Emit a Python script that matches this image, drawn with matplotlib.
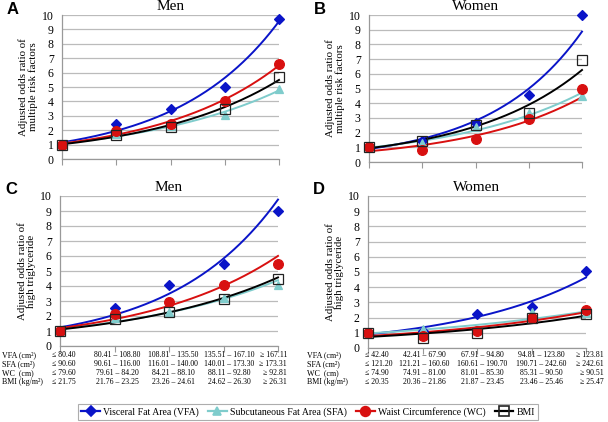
import numpy as np
import matplotlib
matplotlib.use("Agg")
import matplotlib.pyplot as plt
from matplotlib.lines import Line2D

plt.rcParams['font.family'] = ['Liberation Serif', 'DejaVu Serif']

# ---- data ----
x_cats = [0, 1, 2, 3, 4]

A_vfa = [1.0, 2.4, 3.45, 5.0, 9.75]
A_sfa = [1.0, 1.75, 2.3, 3.05, 4.85]
A_wc = [1.0, 1.95, 2.45, 4.05, 6.6]
A_bmi = [1.0, 1.7, 2.2, 3.5, 5.7]

B_vfa = [1.0, 1.45, 2.62, 4.58, 10.0]
B_sfa = [1.0, 1.3, 2.35, 3.3, 4.5]
B_wc = [1.0, 0.81, 1.58, 2.93, 4.98]
B_bmi = [1.0, 1.4, 2.55, 3.35, 6.95]

C_vfa = [1.0, 2.56, 4.05, 5.48, 9.0]
C_sfa = [1.0, 1.85, 2.3, 3.2, 4.1]
C_wc = [1.0, 2.12, 2.94, 4.05, 5.45]
C_bmi = [1.0, 1.78, 2.27, 3.16, 4.45]

D_vfa = [1.0, 1.15, 2.25, 2.7, 5.08]
D_sfa = [1.0, 1.25, 1.2, 2.35, 2.3]
D_wc = [1.0, 0.81, 1.14, 2.0, 2.52]
D_bmi = [1.0, 0.68, 0.98, 1.97, 2.25]

row_labels = ['VFA (cm²)', 'SFA (cm²)', 'WC  (cm)', 'BMI (kg/m²)']
men_ranges = [
    ['≤ 80.40', '80.41 – 108.80', '108.81 – 135.50', '135.51 – 167.10', '≥ 167.11'],
    ['≤ 90.60', '90.61 – 116.00', '116.01 – 140.00', '140.01 – 173.30', '≥ 173.31'],
    ['≤ 79.60', '79.61 – 84.20', '84.21 – 88.10', '88.11 – 92.80', '≥ 92.81'],
    ['≤ 21.75', '21.76 – 23.25', '23.26 – 24.61', '24.62 – 26.30', '≥ 26.31'],
]
women_ranges = [
    ['≤ 42.40', '42.41 – 67.90', '67.91 – 94.80', '94.81 – 123.80', '≥ 123.81'],
    ['≤ 121.20', '121.21 – 160.60', '160.61 – 190.70', '190.71 – 242.60', '≥ 242.61'],
    ['≤ 74.90', '74.91 – 81.00', '81.01 – 85.30', '85.31 – 90.50', '≥ 90.51'],
    ['≤ 20.35', '20.36 – 21.86', '21.87 – 23.45', '23.46 – 25.46', '≥ 25.47'],
]

series_names = ['Visceral Fat Area (VFA)', 'Subcutaneous Fat Area (SFA)',
                'Waist Circumference (WC)', 'BMI']
colors = ['#0a14c8', '#7fcccc', '#d81010', '#000000']
markers = ['D', '^', 'o', 's']
msizes = [5, 6, 7, 7]
faces = ['#0a14c8', '#7fcccc', '#d81010', 'none']
edges = ['#0a14c8', '#7fcccc', '#d81010', '#222222']
marker_z = [6, 7, 8, 9]

panels = [
    ('A', 'Men', 'Adjusted odds ratio of\nmultiple risk factors',
     [A_vfa, A_sfa, A_wc, A_bmi], [62, 279, 15, 159]),
    ('B', 'Women', 'Adjusted odds ratio of\nmultiple risk factors',
     [B_vfa, B_sfa, B_wc, B_bmi], [369, 582, 15, 162]),
    ('C', 'Men', 'Adjusted odds ratio of\nhigh triglyceride',
     [C_vfa, C_sfa, C_wc, C_bmi], [60, 278, 196, 346]),
    ('D', 'Women', 'Adjusted odds ratio of\nhigh triglyceride',
     [D_vfa, D_sfa, D_wc, D_bmi], [368, 586, 196, 348]),
]

W, H = 608, 422
fig = plt.figure(figsize=(W / 100, H / 100), dpi=100)

for letter, title, ylab, data, (l, r, t, b) in panels:
    ax = fig.add_axes([l / W, 1 - b / H, (r - l) / W, (b - t) / H])
    xs = np.array(x_cats, dtype=float)
    xf = np.linspace(xs[0], xs[-1], 200)
    for i, ys in enumerate(data):
        coef = np.polyfit(xs, np.log(ys), 1)
        ax.plot(xf, np.exp(np.polyval(coef, xf)), color=colors[i], lw=1.4,
                zorder=3 + i * 0.1, clip_on=False)
    for i, ys in enumerate(data):
        ax.plot(xs, ys, linestyle='none', marker=markers[i], ms=msizes[i],
                mfc=faces[i], mec=edges[i], mew=0.9, zorder=marker_z[i],
                clip_on=False)
    ax.set_xlim(0, 4)
    ax.set_ylim(0, 10)
    ax.set_yticks(range(0, 11))
    ax.set_xticks(x_cats)
    ax.set_xticklabels([])
    ax.tick_params(axis='y', length=0, labelsize=8.5, pad=6)
    ax.tick_params(axis='x', length=4, color='#999999', direction='out')
    ax.grid(axis='y', color='#bbbbbb', lw=0.9)
    ax.set_axisbelow(True)
    for s in ['top', 'right']:
        ax.spines[s].set_visible(False)
    for s in ['left', 'bottom']:
        ax.spines[s].set_color('#999999')
        ax.spines[s].set_linewidth(0.9)
    fig.text((l + r) / 2 / W, 1 - (t - 8) / H, title, fontsize=11,
             ha='center', va='center')
    ax.set_ylabel(ylab, fontsize=7.8, labelpad=3, linespacing=0.95)
    fig.text((l - 55) / W, 1 - (t - 6) / H, letter, fontsize=12, fontweight='bold',
             family='Liberation Sans', ha='left', va='center')

# tables under C and D
row_y = [355, 364, 373, 382]
tables = [
    (2, men_ranges, [52, 117, 173, 229, 287]),
    (307, women_ranges, [365, 424, 482, 541, 604]),
]
for lab_x, ranges, xpos in tables:
    for j, lab in enumerate(row_labels):
        fig.text(lab_x / W, 1 - row_y[j] / H, lab, fontsize=5.8, ha='left', va='center')
        for k in range(5):
            ha = 'left' if k == 0 else ('right' if k == 4 else 'center')
            fig.text(xpos[k] / W, 1 - row_y[j] / H, ranges[j][k], fontsize=5.6,
                     ha=ha, va='center')

handles = [Line2D([0], [0], color=colors[i], lw=1.6, marker=markers[i], ms=msizes[i],
                  mfc=faces[i], mec=edges[i], mew=1.2) for i in range(4)]
leg = fig.legend(handles, series_names, loc='center', ncol=4,
                 bbox_to_anchor=(308 / W, 1 - 412 / H), fontsize=7,
                 frameon=True, fancybox=False, edgecolor='#999999',
                 handlelength=1.9, handletextpad=0.3, columnspacing=1.0,
                 borderpad=0.35)
leg.get_frame().set_linewidth(0.8)

fig.savefig('out.png', dpi=100)
